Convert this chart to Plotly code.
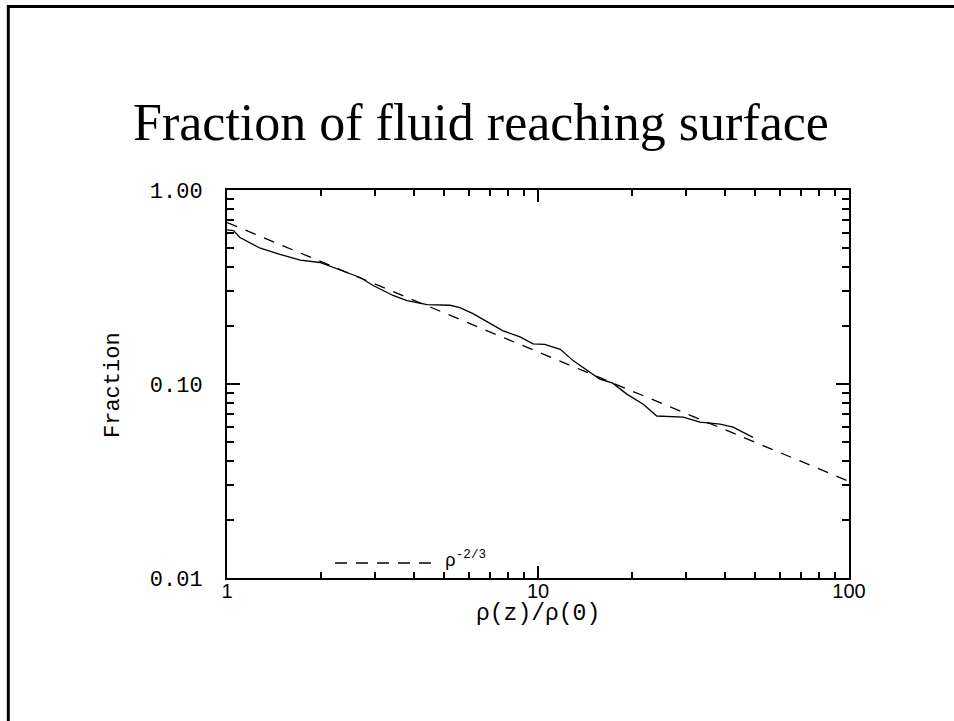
import plotly.graph_objects as go

# Solid curve: fraction of fluid reaching surface vs density ratio
rho_ratio = [1.00, 1.05, 1.10, 1.19, 1.28, 1.48, 1.72, 1.99, 2.19, 2.68, 2.95, 3.42, 3.79,
             4.40, 5.21, 5.61, 6.18, 6.86, 7.72, 8.75, 9.64, 10.5, 11.8, 12.96, 14.7,
             15.8, 17.4, 19.3, 21.8, 24.1, 29.3, 33.2, 38.5, 42.4, 49.1]
fraction = [0.623, 0.618, 0.569, 0.531, 0.501, 0.466, 0.435, 0.423, 0.399, 0.354, 0.322,
            0.286, 0.269, 0.2566, 0.2546, 0.2475, 0.2305, 0.2096, 0.188, 0.175, 0.161,
            0.160, 0.151, 0.132, 0.1154, 0.106, 0.101, 0.0887, 0.0787, 0.0684, 0.0675,
            0.0636, 0.0621, 0.0599, 0.0531]

# Dashed reference power law rho^(-2/3), endpoints
fit_x = [1.0, 100.0]
fit_y = [0.68, 0.0315]

x_tickvals = [1, 10, 100]
x_ticktext = ["1", "10", "100"]
y_tickvals = [0.01, 0.1, 1.0]
y_ticktext = ["0.01", "0.10", "1.00"]
x_minor = [2, 3, 4, 5, 6, 7, 8, 9, 20, 30, 40, 50, 60, 70, 80, 90]
y_minor = [0.02, 0.03, 0.04, 0.05, 0.06, 0.07, 0.08, 0.09,
           0.2, 0.3, 0.4, 0.5, 0.6, 0.7, 0.8, 0.9]

title_text = "Fraction of fluid reaching surface"
x_title = "ρ(z)/ρ(0)"
y_title = "Fraction"
legend_text = "ρ<sup>-2/3</sup>"

fig = go.Figure()
fig.add_trace(go.Scatter(x=rho_ratio, y=fraction, mode="lines",
                         line=dict(color="black", width=1.3), showlegend=False))
fig.add_trace(go.Scatter(x=fit_x, y=fit_y, mode="lines",
                         line=dict(color="black", width=1.3, dash="11px,9px"),
                         showlegend=False))

W, H = 954, 721
L, R, T, B = 227, 105, 190, 143
pw, ph = W - L - R, H - T - B


def px(x):
    return (x - L) / pw


def py(y):
    return (H - B - y) / ph


mono = "Liberation Mono"
sans = "Arial, Liberation Sans, sans-serif"

fig.update_layout(
    width=W, height=H,
    margin=dict(l=L, r=R, t=T, b=B),
    paper_bgcolor="white", plot_bgcolor="white",
    showlegend=False,
    xaxis=dict(type="log", range=[0, 2], tickvals=x_tickvals, ticktext=x_ticktext,
               ticks="inside", ticklen=12, tickwidth=1.5, tickcolor="black",
               showline=True, linecolor="black", linewidth=2, mirror="allticks",
               showgrid=False, zeroline=False,
               tickfont=dict(family=sans, size=20, color="black"),
               ticklabelstandoff=-6,
               minor=dict(tickvals=x_minor, ticks="inside", ticklen=6, tickwidth=1.5,
                          tickcolor="black", showgrid=False)),
    yaxis=dict(type="log", range=[-2, 0], tickvals=y_tickvals, ticktext=y_ticktext,
               ticks="inside", ticklen=13, tickwidth=1.5, tickcolor="black",
               showline=True, linecolor="black", linewidth=2, mirror="allticks",
               showgrid=False, zeroline=False,
               tickfont=dict(family=mono, size=22, color="black"),
               ticklabelstandoff=18,
               minor=dict(tickvals=y_minor, ticks="inside", ticklen=7, tickwidth=1.5,
                          tickcolor="black", showgrid=False)),
)

# Slide frame (top and left edges)
fig.add_shape(type="line", xref="paper", yref="paper",
              x0=px(8.3), x1=px(960), y0=py(6.5), y1=py(6.5),
              line=dict(color="black", width=3))
fig.add_shape(type="line", xref="paper", yref="paper",
              x0=px(8.3), x1=px(8.3), y0=py(5), y1=py(730),
              line=dict(color="black", width=3))

# Title
fig.add_annotation(text=title_text, xref="paper", yref="paper",
                   x=px(481), y=py(123), xanchor="center", yanchor="middle",
                   showarrow=False,
                   font=dict(family="Liberation Serif", size=52, color="black"))
# Axis titles
fig.add_annotation(text=y_title, xref="paper", yref="paper",
                   x=px(113), y=py(385), xanchor="center", yanchor="middle",
                   textangle=-90, showarrow=False,
                   font=dict(family=mono, size=22, color="black"))
fig.add_annotation(text=x_title, xref="paper", yref="paper",
                   x=px(538), y=py(614), xanchor="center", yanchor="middle",
                   showarrow=False,
                   font=dict(family=mono, size=23, color="black"))

# Legend inside plot
fig.add_shape(type="line", xref="paper", yref="paper",
              x0=px(335), x1=px(432), y0=py(563), y1=py(563),
              line=dict(color="black", width=1.3, dash="12px,9px"))
fig.add_annotation(text=legend_text, xref="paper", yref="paper",
                   x=px(443), y=py(559), xanchor="left", yanchor="middle",
                   showarrow=False,
                   font=dict(family=mono, size=18, color="black"))

fig.write_html("out.html")
